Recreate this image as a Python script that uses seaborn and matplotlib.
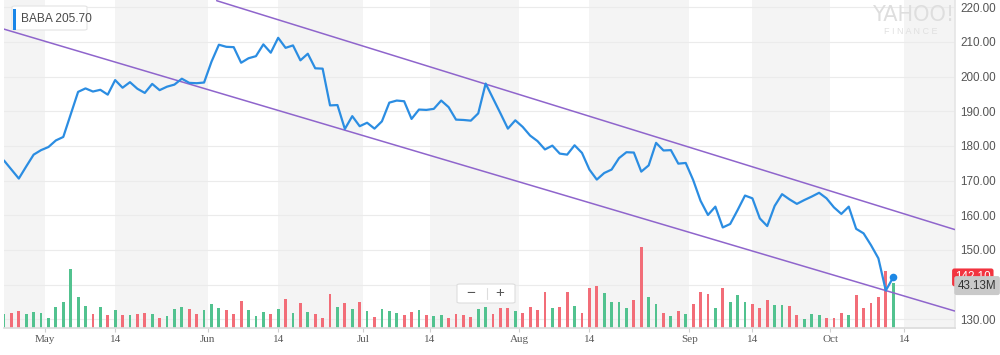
import numpy as np
import pandas as pd
import matplotlib
matplotlib.use("Agg")
import matplotlib.pyplot as plt
import matplotlib.transforms as mtransforms
from matplotlib.patches import FancyBboxPatch, Rectangle
import seaborn as sns

# BABA daily close + volume (millions), 23 Apr - 11 Oct 2018
close = [
    175.8, 173.2, 170.6, 174.1, 177.5, 178.8, 179.7, 181.6, 182.6, 189.1,
    195.6, 196.6, 195.7, 196.2, 194.8, 199.0, 196.8, 198.4, 196.5, 195.3,
    197.9, 196.1, 197.1, 197.7, 199.4, 198.2, 198.1, 198.3, 204.3, 209.2,
    208.6, 208.5, 204.0, 205.3, 205.9, 209.3, 206.9, 211.2, 208.3, 209.0,
    204.7, 206.6, 202.4, 202.3, 191.7, 191.8, 184.9, 188.6, 185.7, 186.7,
    185.0, 187.1, 192.5, 193.1, 192.9, 187.8, 190.5, 190.4, 190.7, 193.1,
    191.2, 187.6, 187.5, 187.3, 189.4, 198.0, 193.7, 189.4, 185.0, 187.4,
    185.5, 183.0, 181.4, 179.0, 180.1, 177.8, 177.5, 180.2, 178.0, 173.2,
    170.3, 172.2, 173.2, 176.5, 178.2, 178.1, 172.6, 174.4, 180.9, 178.7,
    178.8, 174.9, 175.1, 170.2, 164.2, 160.1, 162.5, 156.5, 157.5, 161.5,
    165.7, 164.9, 159.1, 156.9, 162.7, 166.1, 164.6, 163.3, 164.4, 165.4,
    166.5, 164.9, 162.3, 160.4, 162.5, 156.1, 154.8, 151.4, 147.6, 138.3,
    142.1,
]
volume_m = [
    13.0, 14.3, 16.5, 13.4, 15.0, 14.3, 9.8, 20.1, 24.8, 56.3,
    29.3, 21.3, 13.4, 20.1, 12.4, 17.5, 12.4, 12.4, 13.4, 14.3,
    13.4, 9.3, 11.5, 18.1, 20.1, 18.1, 13.4, 17.2, 23.2, 18.8,
    17.5, 13.4, 26.1, 17.2, 11.5, 15.6, 13.4, 18.1, 27.7, 14.3,
    23.6, 15.0, 13.4, 9.3, 32.5, 20.1, 23.6, 18.4, 24.8, 16.2,
    10.2, 17.9, 16.2, 14.6, 12.1, 15.6, 17.2, 12.1, 11.5, 12.1,
    9.6, 13.1, 12.1, 10.5, 17.9, 20.1, 13.1, 19.4, 19.4, 16.2,
    14.0, 20.3, 17.2, 34.7, 19.4, 20.1, 34.7, 21.0, 14.0, 37.9,
    40.4, 33.1, 24.5, 24.8, 19.4, 26.5, 77.4, 29.9, 22.6, 14.6,
    11.5, 16.2, 13.1, 22.6, 34.7, 32.5, 18.8, 37.9, 24.8, 31.5,
    24.8, 22.6, 19.4, 26.5, 22.0, 22.0, 21.0, 12.4, 8.9, 13.1,
    12.1, 9.8, 9.8, 14.0, 12.1, 31.5, 19.4, 24.2, 29.9, 54.7,
    43.13,
]
holidays = ["2018-05-28", "2018-07-04", "2018-09-03"]

tick_dates = ["2018-05-01", "2018-05-14", "2018-06-01", "2018-06-14",
              "2018-07-01", "2018-07-14", "2018-08-01", "2018-08-14",
              "2018-09-01", "2018-09-14", "2018-10-01", "2018-10-14"]
tick_labels = ["May", "14", "Jun", "14", "Jul", "14", "Aug", "14",
               "Sep", "14", "Oct", "14"]
price_ticks = [130, 140, 150, 160, 170, 180, 190, 200, 210, 220]

# trend channel drawn on the chart (trading-day index, price)
upper_idx = [28.7, 128.3]
upper_price = [221.9, 155.9]
lower_idx = [0.0, 128.3]
lower_price = [213.7, 132.4]

legend_text = "BABA 205.70"

BLUE = "#2b8de2"
PURPLE = "#8f65cc"
GREEN = "#52c28f"
RED = "#f26d78"
BAND = "#f4f4f4"

sns.set_theme(style="white")
plt.rcParams["font.family"] = ["Liberation Sans", "DejaVu Sans"]

# trading calendar (axis runs a bit past the last close)
days = pd.bdate_range("2018-04-23", "2018-10-31", freq="C", holidays=holidays)
df = pd.DataFrame({
    "i": np.arange(len(close)),
    "date": days[:len(close)],
    "close": close,
    "volume": volume_m,
})
df["dir"] = np.where(df["close"].diff().fillna(1) >= 0, "up", "down")


def tick_pos(d):
    d = pd.Timestamp(d)
    k = days.searchsorted(d)
    if d.day == 14 and days[k] == d:
        return float(k)
    return k - 0.5


ticks = [tick_pos(d) for d in tick_dates]
x_lo, x_hi = 0.0, 128.34

fig = plt.figure(figsize=(10, 3.55), dpi=100)
ax_vol = fig.add_axes([0.004, 27 / 355, 0.951, 328 / 355])
ax = ax_vol.twinx()

# month bands: grey from the 14th to the next month start
edges = [x_lo] + ticks + [x_hi]
for a, b in zip(edges[0::2], edges[1::2]):
    ax_vol.axvspan(a, b, color=BAND, lw=0, zorder=0)

# horizontal grid at price levels, under the volume bars
grid_tr = mtransforms.blended_transform_factory(ax_vol.transAxes, ax.transData)
for v in price_ticks:
    ax_vol.plot([0, 1], [v, v], transform=grid_tr, color="#ebebeb", lw=0.8, zorder=0.5)

sns.barplot(data=df, x="i", y="volume", hue="dir",
            palette={"up": GREEN, "down": RED}, native_scale=True,
            dodge=False, width=0.38, errorbar=None, legend=False,
            saturation=1, linewidth=0, ax=ax_vol)

sns.lineplot(data=df, x="i", y="close", color=BLUE, linewidth=1.6, ax=ax, zorder=4)
ax.scatter(df["i"].iloc[-1], close[-1], s=30, color="#1e88e5", zorder=5, linewidths=0)

ax.plot(upper_idx, upper_price, color=PURPLE, lw=1.1, zorder=3)
ax.plot(lower_idx, lower_price, color=PURPLE, lw=1.1, zorder=3)

ax_vol.set_xlim(x_lo, x_hi)
ax_vol.set_ylim(0, 313)
ax.set_ylim(127.5, 222.1)

ax_vol.set_xlabel("")
ax_vol.set_ylabel("")
ax.set_xlabel("")
ax.set_ylabel("")
ax_vol.set_yticks([])
ax_vol.set_xticks(ticks)
ax_vol.set_xticklabels(tick_labels)
ax_vol.tick_params(axis="x", length=3, width=0.8, color="#cfcfcf", pad=2,
                   labelsize=8, labelcolor="#5a5a5a", bottom=True)
for lbl in ax_vol.get_xticklabels():
    lbl.set_fontfamily("Liberation Serif")

ax.set_yticks(price_ticks)
ax.set_yticklabels([f"{v:.2f}" for v in price_ticks])
ax.tick_params(axis="y", length=0, pad=4, labelsize=8.4, labelcolor="#555555")

for s in ["top", "left"]:
    ax_vol.spines[s].set_visible(False)
ax_vol.spines["bottom"].set_color("#dcdcdc")
ax_vol.spines["right"].set_color("#e6e6e6")
for s in ax.spines.values():
    s.set_visible(False)

# last price / last volume flags on the right axis (volume flag sits over the price flag)
ax.annotate(f"{close[-1]:.2f}", xy=(1.0, close[-1]), xycoords=("axes fraction", "data"),
            xytext=(0, 0), textcoords="offset points", ha="left", va="center",
            fontsize=8.4, color="white", annotation_clip=False, zorder=6,
            bbox=dict(boxstyle="round,pad=0.25,rounding_size=0.2", fc="#f2333f", ec="none"))
vol_tr = mtransforms.blended_transform_factory(ax.transAxes, ax_vol.transData)
ax.annotate(f"{volume_m[-1]:.2f}M", xy=(1.0, volume_m[-1]), xycoords=vol_tr,
            xytext=(2, -2), textcoords="offset points", ha="left", va="center",
            fontsize=8.4, color="#333333", annotation_clip=False, zorder=7,
            bbox=dict(boxstyle="round,pad=0.3,rounding_size=0.2", fc="#c9c9c9", ec="none"))


def px(x, y):
    return x / 1000, 1 - y / 355


# legend chip, top left
fig.add_artist(FancyBboxPatch(px(12, 30), 75 / 1000, 24 / 355,
                              boxstyle="round,pad=0,rounding_size=0.003",
                              transform=fig.transFigure, fc="white", ec="#e4e4e4", lw=0.8))
fig.add_artist(Rectangle(px(12.5, 29.5), 3.5 / 1000, 20 / 355,
                         transform=fig.transFigure, fc="#1a86e8", ec="none"))
fig.text(*px(21, 18.5), legend_text, ha="left", va="center", fontsize=8.6, color="#4a4a4a")

# watermark
fig.text(*px(913, 15), "YAHOO!", ha="center", va="center", fontsize=15,
         color="#dedede", fontfamily="Liberation Sans Narrow")
fig.text(*px(911, 32), "F I N A N C E", ha="center", va="center", fontsize=6.5,
         color="#e0e0e0")

# zoom control
fig.add_artist(FancyBboxPatch(px(457, 303), 58 / 1000, 19 / 355,
                              boxstyle="round,pad=0,rounding_size=0.003",
                              transform=fig.transFigure, fc="white", ec="#dddddd", lw=0.8))
fig.text(*px(471, 293), "\u2212", ha="center", va="center", fontsize=11, color="#555555")
fig.text(*px(500, 293), "+", ha="center", va="center", fontsize=11, color="#555555")
fig.add_artist(plt.Line2D([487 / 1000, 487 / 1000], [1 - 288 / 355, 1 - 299 / 355],
                          transform=fig.transFigure, color="#dddddd", lw=0.8))

fig.savefig("out.png", dpi=100)
